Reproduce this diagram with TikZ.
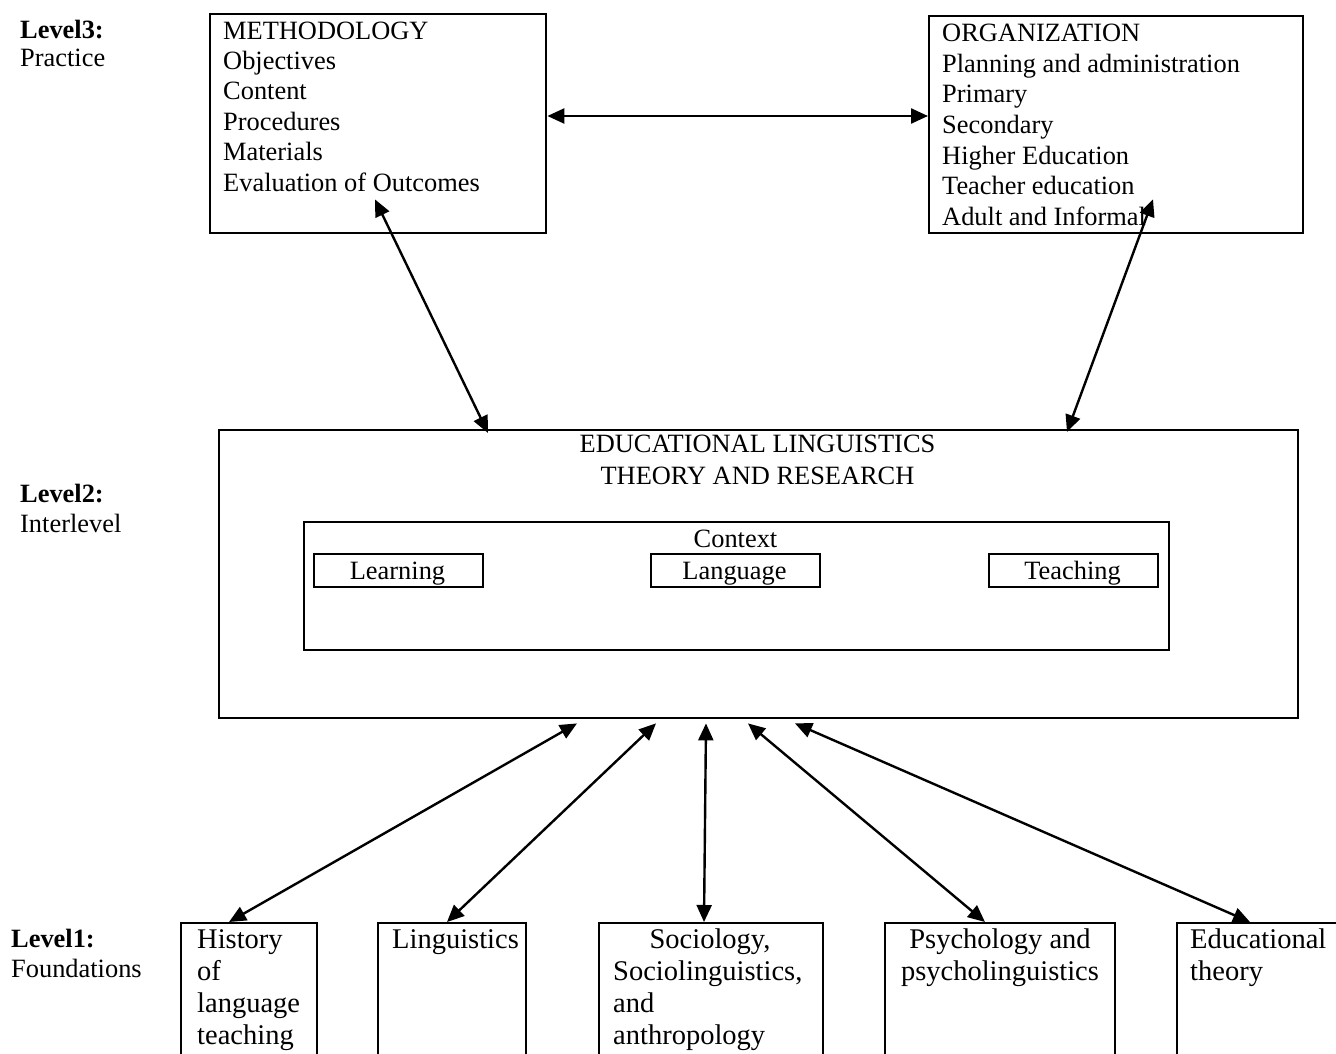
\documentclass[tikz,border=0pt]{standalone}
\usepackage{fontspec}
\setmainfont{Liberation Serif}
\usetikzlibrary{arrows.meta,calc}
\begin{document}
\begin{tikzpicture}[x=1pt,y=-1pt,
  box/.style={draw, line width=2.4pt, inner sep=0pt, anchor=north west},
  txt/.style={inner sep=0pt, anchor=base west, font=\fontsize{26.4}{30.4}\selectfont},
  ctxt/.style={txt, anchor=base},
  lvl/.style={txt, font=\fontsize{26.4}{30.4}\selectfont\bfseries},
  big/.style={inner sep=0pt, anchor=base west, font=\fontsize{28.5}{32}\selectfont},
  cbig/.style={big, anchor=base},
  tip/.tip={Triangle[length=17pt,width=15pt]},
  dbl/.style={tip-tip, line width=2.4pt}
]
\useasboundingbox (0,0) rectangle (1336,1054);
\clip (0,0) rectangle (1336,1054);
\fill[white] (0,0) rectangle (1336,1054);

% level captions
\node[lvl] (l3) at (20,39) {Level3:};
\node[txt] (l3t) at (20,67) {Practice};
\node[lvl] (l2) at (20,502) {Level2:};
\node[txt] (l2t) at (20,532) {Interlevel};
\node[lvl] (l1) at (11,947) {Level1:};
\node[txt] (l1t) at (11,977) {Foundations};

% level 3: practice
\node[box, minimum width=336pt, minimum height=219pt] (meth) at (209,13) {};
\foreach \s [count=\i from 0] in {METHODOLOGY,Objectives,Content,Procedures,Materials,Evaluation of Outcomes}
  \node[txt] (m\i) at (223,39.2+30.4*\i) {\s};

\node[box, minimum width=374pt, minimum height=217pt] (org) at (928,15) {};
\foreach \s [count=\i from 0] in {ORGANIZATION,Planning and administration,Primary,Secondary,Higher Education,Teacher education,Adult and Informal}
  \node[txt] (o\i) at (942,41.5+30.67*\i) {\s};

% level 2: educational linguistics
\node[box, minimum width=1079pt, minimum height=288pt] (el) at (218,429) {};
\node[ctxt] (elt1) at (757.5,452) {EDUCATIONAL LINGUISTICS};
\node[ctxt] (elt2) at (757.5,484) {THEORY AND RESEARCH};

\node[box, minimum width=865pt, minimum height=128pt] (ctx) at (303,521) {};
\node[ctxt] (ctxt) at (735.5,547) {Context};

\node[box, minimum width=169pt, minimum height=33pt] (learn) at (313,553) {};
\node[box, minimum width=169pt, minimum height=33pt] (lang) at (650,553) {};
\node[box, minimum width=169pt, minimum height=33pt] (teach) at (988,553) {};
\node[ctxt] (learnt) at (397.5,579) {Learning};
\node[ctxt] (langt) at (734.5,579) {Language};
\node[ctxt] (teacht) at (1072.5,579) {Teaching};

% level 1: foundations (boxes run off the lower edge)
\node[box, minimum width=136pt, minimum height=200pt] (hist) at (180,922) {};
\node[box, minimum width=148pt, minimum height=200pt] (ling) at (377,922) {};
\node[box, minimum width=224pt, minimum height=200pt] (soc) at (598,922) {};
\node[box, minimum width=230pt, minimum height=200pt] (psy) at (884,922) {};
\node[box, minimum width=200pt, minimum height=200pt] (edu) at (1176,922) {};

\foreach \s [count=\i from 0] in {History,of,language,teaching}
  \node[big] (h\i) at (197,948+32*\i) {\s};
\node[big] (lg0) at (392,948) {Linguistics};
\node[cbig] (s0) at (710,948) {Sociology,};
\node[big] (s1) at (613,980) {Sociolinguistics,};
\node[big] (s2) at (613,1012) {and};
\node[big] (s3) at (613,1044) {anthropology};
\node[cbig] (p0) at (1000,948) {Psychology and};
\node[cbig] (p1) at (1000,980) {psycholinguistics};
\node[big] (e0) at (1190,948) {Educational};
\node[big] (e1) at (1190,980) {theory};

% connectors
\draw[dbl] (meth.east |- 0,116) -- (org.west |- 0,116);
\draw[dbl] ($(meth.south west)+(166,-35)$) -- ($(el.north west)+(270,4)$);
\draw[dbl] ($(org.south west)+(225,-35)$) -- ($(el.north west)+(849,3)$);

\draw[dbl] ($(el.south west)+(359,4)$) -- ($(hist.north west)+(49,0)$);
\draw[dbl] ($(el.south west)+(438,4)$) -- ($(ling.north west)+(70,0)$);
\draw[dbl] ($(el.south west)+(488,4)$) -- ($(soc.north west)+(106,0)$);
\draw[dbl] ($(el.south west)+(530,4)$) -- ($(psy.north west)+(101,0)$);
\draw[dbl] ($(el.south west)+(577,4)$) -- ($(edu.north west)+(74,0)$);
\end{tikzpicture}
\end{document}
